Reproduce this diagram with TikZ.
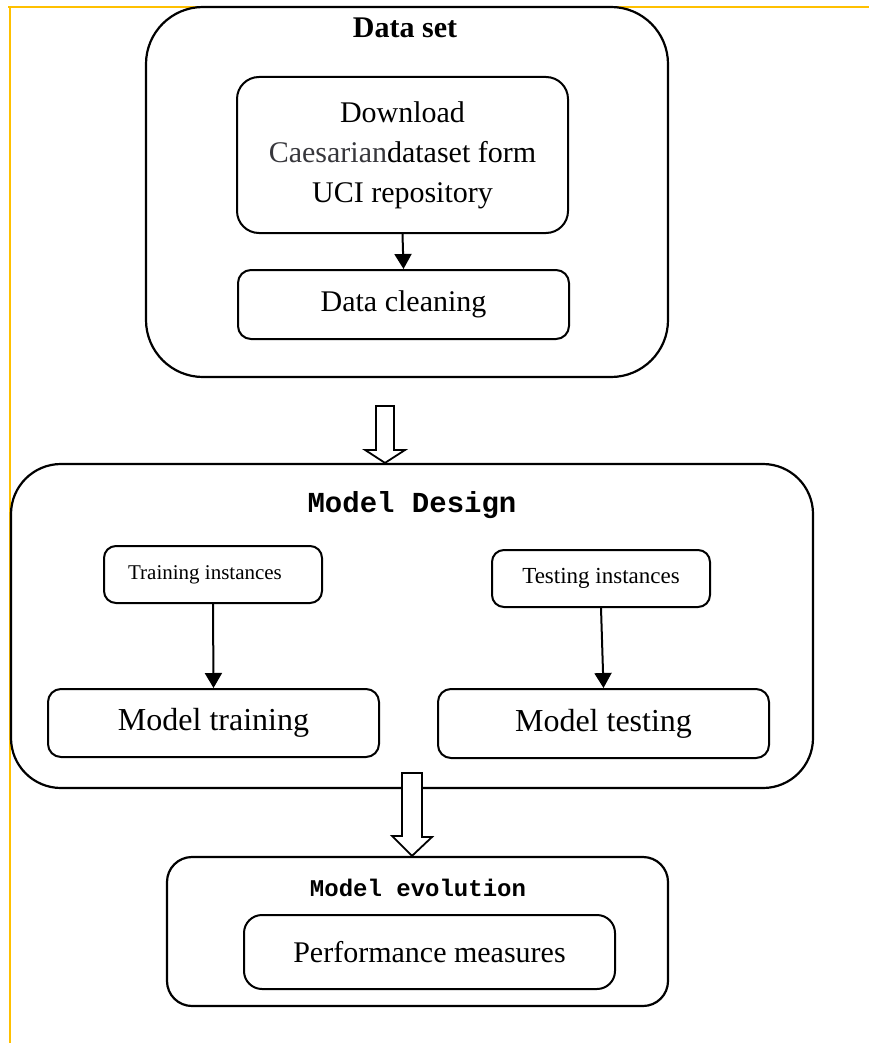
\documentclass[tikz,border=0pt]{standalone}
\usepackage{fontspec}
\setmainfont{Liberation Serif}
\newfontfamily\codefont{Liberation Mono}
\usetikzlibrary{arrows.meta}
\definecolor{frameyellow}{RGB}{255,192,0}
\definecolor{softblack}{RGB}{55,55,60}
\begin{document}
\begin{tikzpicture}[x=1pt,y=-1pt,
  box/.style={draw=black,line width=2pt,rectangle,inner sep=0pt,align=center},
  outerbox/.style={box,line width=2.2pt},
  flow/.style={draw=black,line width=2pt,-{Triangle[length=15pt,width=17pt]}},
  hollow/.style={draw=black,line width=1.8pt,fill=white,line join=miter},
  txt/.style={font=\fontsize{30}{40}\selectfont},
  bigtxt/.style={font=\fontsize{32}{40}\selectfont},
  smalltxt/.style={font=\fontsize{21}{26}\selectfont},
  headtxt/.style={font=\fontsize{30}{36}\selectfont\bfseries},
  codetxt/.style={font=\fontsize{29}{34}\selectfont\codefont\bfseries},
]
\useasboundingbox (0,0) rectangle (869,1043);

% page frame lines
\draw[frameyellow,line width=2.6pt] (8,7) -- (869,7);
\draw[frameyellow,line width=2.2pt] (10,7) -- (10,1043);

% ---- Data set stage ----
\node[outerbox,rounded corners=57pt,minimum width=522pt,minimum height=370pt] (dataset) at (407,192) {};
\node[headtxt] (datasetlbl) at (405,28) {Data set};
\node[box,rounded corners=22pt,minimum width=331pt,minimum height=156pt,txt] (download) at (402.5,155)
  {Download\\{\color{softblack}Caesarian}dataset form\\UCI repository};
\node[box,rounded corners=13pt,minimum width=331pt,minimum height=69pt,txt] (cleaning) at (403.5,304.5) {Data cleaning};
\draw[flow] (download.south) -- (cleaning.north);

% ---- Model design stage ----
\node[outerbox,rounded corners=50pt,minimum width=802pt,minimum height=324pt] (design) at (412,626) {};
\node[codetxt] (designlbl) at (412,505) {Model Design};
\node[box,rounded corners=12pt,minimum width=218pt,minimum height=57pt,smalltxt] (trainset) at (213,574.5) {Training instances\hspace{16pt}};
\node[box,rounded corners=12pt,minimum width=218pt,minimum height=57pt,font=\fontsize{23}{28}\selectfont] (testset) at (601,578.5) {Testing instances};
\node[box,rounded corners=13pt,minimum width=331pt,minimum height=68pt,bigtxt] (training) at (213.5,723) {Model training};
\node[box,rounded corners=13pt,minimum width=331pt,minimum height=69pt,bigtxt] (testing) at (603.5,723.5) {Model testing};
\draw[flow] (trainset.south) -- (training.north);
\draw[flow] (testset.south) -- (testing.north);

% ---- Model evolution stage ----
\node[outerbox,rounded corners=25pt,minimum width=501pt,minimum height=149pt] (evolution) at (417.5,931.5) {};
\node[codetxt,font=\fontsize{24}{28}\selectfont\codefont\bfseries] (evolutionlbl) at (418,888) {Model evolution};
\node[box,rounded corners=18pt,minimum width=371pt,minimum height=74pt,txt] (performance) at (429.5,952) {Performance measures};

% hollow block arrows between stages
\coordinate (arrA) at (385,406);
\draw[hollow] (arrA) ++(-9,0) -- ++(18,0) -- ++(0,44) -- ++(11,0) -- (design.north -| arrA) -- ++(-20,-13) -- ++(11,0) -- cycle;
\coordinate (arrB) at (412,773);
\draw[hollow] (arrB) ++(-10,0) -- ++(20,0) -- ++(0,64) -- ++(10,0) -- (evolution.north -| arrB) -- ++(-20,-20) -- ++(10,0) -- cycle;
\end{tikzpicture}
\end{document}
